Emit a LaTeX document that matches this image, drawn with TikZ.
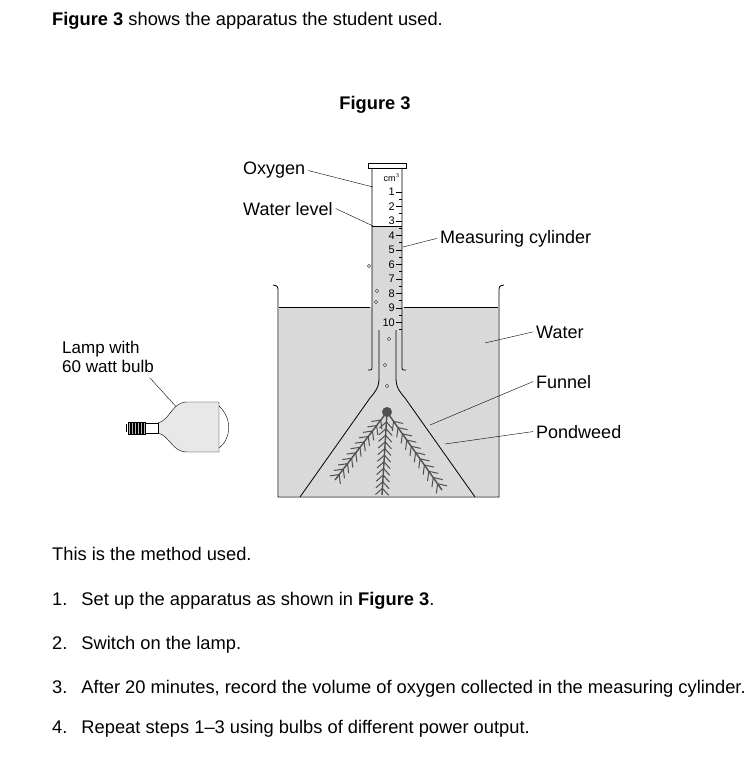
\documentclass[tikz,border=0pt]{standalone}
\usepackage{fontspec}
\setmainfont{Liberation Sans}
\usetikzlibrary{calc,positioning}
\definecolor{watergrey}{RGB}{217,217,217}
\definecolor{weedgrey}{RGB}{80,80,80}
\newcommand{\weedstem}[2]{%
  \draw[weedgrey,line width=1.4pt] (#1) -- (#2);
  \foreach \t in {0.12,0.2,...,0.97}{
    \draw[weedgrey,line width=1pt] ($(#1)!\t!(#2)$) -- ($(#1)!\t+0.05!(#2)!7pt!70:(#2)$);
    \draw[weedgrey,line width=1pt] ($(#1)!\t!(#2)$) -- ($(#1)!\t+0.05!(#2)!7pt!-70:(#2)$);
  }}
\begin{document}
\begin{tikzpicture}[x=1pt,y=-1pt,
  txt/.style={font=\fontsize{18.3}{21}\selectfont,inner sep=0pt,anchor=base west},
  lbl/.style={font=\fontsize{18}{19}\selectfont,inner sep=0pt,anchor=base west},
  scalenum/.style={font=\fontsize{11}{12}\selectfont,inner sep=0pt,anchor=east},
  leader/.style={thin},
  bubble/.style={draw,thin,fill=white}]
\useasboundingbox (0,0) rectangle (753,778);

% text above
\node[txt] (intro) at (52,26) {\textbf{Figure 3} shows the apparatus the student used.};
\node[txt,anchor=base] (fig) at (375,110) {\textbf{Figure 3}};

% beaker and water
\fill[watergrey] (279,307) rectangle (498,496);
\draw[thick] (273,285) .. controls (278,286) .. (278,293) -- (278,497) -- (499,497) -- (499,293) .. controls (499,286) .. (504,285);
\draw (279,307) -- (370,307);
\draw (404,307) -- (498,307);

% measuring cylinder
\fill[white] (372,168) rectangle (402,226);
\fill[watergrey] (372,226) rectangle (402,368);
\draw (372,226) -- (402,226);
\draw (368,163) rectangle (406,168);
\draw[thick] (372,168) -- (372,366) .. controls (372,370) .. (368,370);
\draw[thick] (402,168) -- (402,366) .. controls (402,370) .. (406,370);
\node[scalenum,font=\fontsize{9}{10}\selectfont] (cm) at (400,178) {cm$^3$};
\foreach \n in {1,...,10}{
  \node[scalenum] (n\n) at (395,{192+14.5*(\n-1)}) {\n};
  \draw (396,{192+14.5*(\n-1)}) -- (402,{192+14.5*(\n-1)});
  \draw (399,{199+14.5*(\n-1)}) -- (402,{199+14.5*(\n-1)});
}

% funnel
\draw[thick] (379,330) -- (379,378) .. controls (379,388) and (375,392) .. (370,398) -- (300,497);
\draw[thick] (396,330) -- (396,378) .. controls (396,388) and (400,392) .. (405,398) -- (475,497);

% pondweed
\coordinate (w0) at (387,412);
\coordinate (w1) at (335,480);
\coordinate (w2) at (382,495);
\coordinate (w3) at (442,490);
\weedstem{w0}{w1}
\weedstem{w0}{w2}
\weedstem{w0}{w3}
\fill[weedgrey] (w0) circle (5pt);

% bubbles
\foreach \p in {(369,266),(377,291),(376,302),(389,339),(385,365),(387,386)}
  \draw[bubble] \p circle (1.6pt);

% labels
\node[lbl] (oxy) at (243,175) {Oxygen};
\node[lbl] (wlev) at (243,215) {Water level};
\node[lbl] (mcyl) at (440,243) {Measuring cylinder};
\node[lbl] (wat) at (536,338) {Water};
\node[lbl] (fun) at (536,388) {Funnel};
\node[lbl] (weed) at (536,438) {Pondweed};
\node[lbl,align=left,anchor=north west,font=\fontsize{17}{19}\selectfont] (lamp) at (62,341) {Lamp with\\60 watt bulb};
\coordinate (oxyend) at (373,187);
\coordinate (wlevend) at (373,226);
\coordinate (mcylend) at (403,247);
\coordinate (watend) at (485,343);
\coordinate (funend) at (430,425);
\coordinate (weedend) at (445,444);
\coordinate (lampstart) at (150,378);
\coordinate (lampend) at (180,411);
\draw[leader] ([xshift=3pt]oxy.east) -- (oxyend);
\draw[leader] ([xshift=3pt]wlev.east) -- (wlevend);
\draw[leader] ([xshift=-3pt]mcyl.west) -- (mcylend);
\draw[leader] ([xshift=-3pt]wat.west) -- (watend);
\draw[leader] ([xshift=-3pt]fun.west) -- (funend);
\draw[leader] ([xshift=-3pt]weed.west) -- (weedend);
\draw[leader] (lampstart) -- (lampend);

% lamp
\fill[watergrey!60] (158,423) .. controls (170,420) and (172,402) .. (187,402) -- (219,402) -- (219,452) -- (187,452) .. controls (172,452) and (170,436) .. (158,433) -- cycle;
\draw (158,423) .. controls (170,420) and (172,402) .. (187,402) -- (219,402) -- (219,452) -- (187,452) .. controls (172,452) and (170,436) .. (158,433);
\draw (219,406) .. controls (232,418) and (232,438) .. (219,448);
\draw[fill=white] (138,423) rectangle (158,433);
\foreach \i in {0,...,5}
  \draw[fill=weedgrey!40] ({128+3*\i},422) rectangle ({130.5+3*\i},434);
\draw (126,424) -- (126,432);

% method
\node[txt] (meth) at (52,560) {This is the method used.};
\node[txt] (s1) at (52,605) {1.\hspace{14pt}Set up the apparatus as shown in \textbf{Figure 3}.};
\node[txt] (s2) at (52,649) {2.\hspace{14pt}Switch on the lamp.};
\node[txt] (s3) at (52,693) {3.\hspace{14pt}After 20 minutes, record the volume of oxygen collected in the measuring cylinder.};
\node[txt] (s4) at (52,733) {4.\hspace{14pt}Repeat steps 1--3 using bulbs of different power output.};
\end{tikzpicture}
\end{document}
